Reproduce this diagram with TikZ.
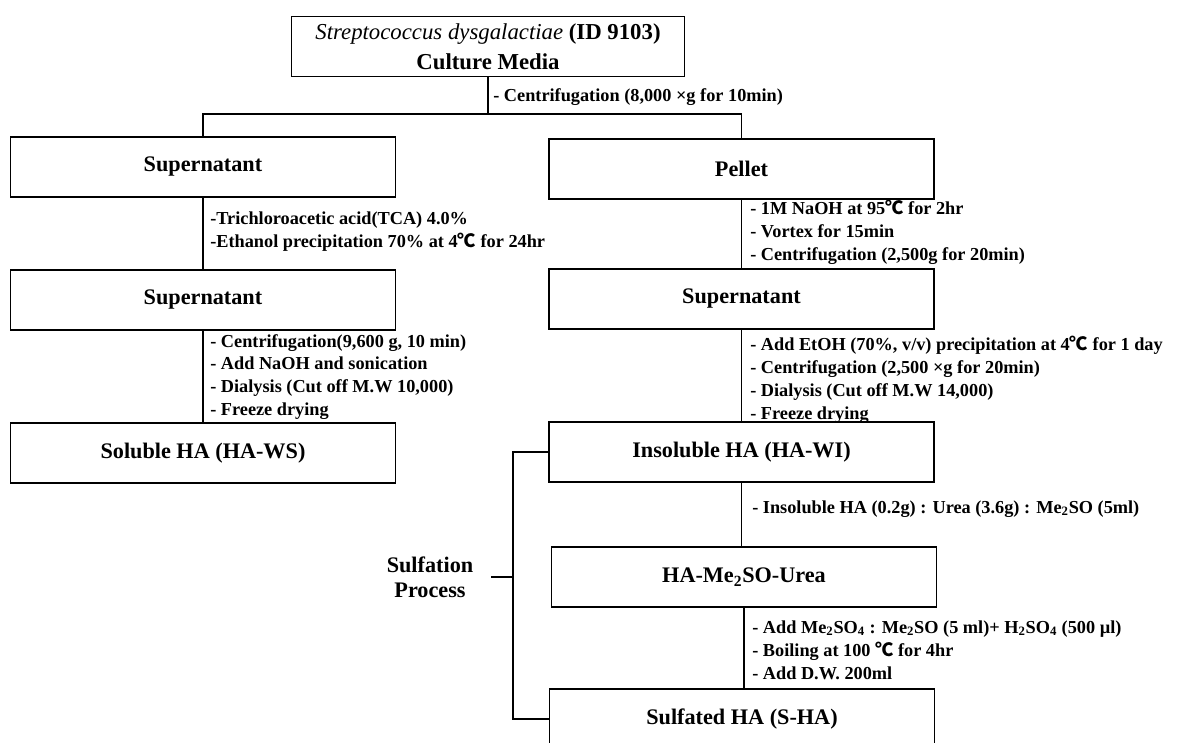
\documentclass[tikz,border=0pt]{standalone}
\usepackage{fontspec}
\setmainfont{Liberation Serif}
\newfontfamily\cjkfont{Noto Sans CJK KR}
\newcommand{\degC}{{\cjkfont ℃}}
\newcommand{\subs}[1]{\textsubscript{#1}}

\begin{document}
\begin{tikzpicture}[x=0.025cm, y=-0.025cm,
  stagebox/.style={draw, line width=1.2pt, minimum width=9.625cm, minimum height=1.5cm,
    align=center, font=\fontsize{15.8}{21}\selectfont\bfseries},
  stepnote/.style={anchor=west, align=left, inner sep=0pt,
    font=\fontsize{13}{16.3}\selectfont\bfseries},
  link/.style={line width=0.9pt}]

% page frame, pixel units (y grows downwards)
\useasboundingbox (0,0) rectangle (1179,743);

% ============================================================
% Culture media and first split
% ============================================================
\node[stagebox, minimum width=9.825cm, font=\fontsize{16.2}{21}\selectfont\bfseries]
  (media) at (488,46.5)
  {{\mdseries\itshape Streptococcus dysgalactiae} (ID 9103)\\Culture Media};
\coordinate (split) at (488,114);
\node[stepnote] (spin1) at (493,97) {- Centrifugation (8,000 ×g for 10min)};

% ============================================================
% Left column: soluble HA
% ============================================================
\node[stagebox] (supL1) at (203,167) {Supernatant};
\node[stagebox] (supL2) at (203,300) {Supernatant};
\node[stagebox] (soluble) at (203,453) {Soluble HA (HA-WS)};

\node[stepnote] (tca) at (210,231.5)
  {-Trichloroacetic acid(TCA) 4.0\%\\-Ethanol precipitation 70\% at 4\degC{} for 24hr};
\node[stepnote] (dialL) at (210,377)
  {- Centrifugation(9,600 g, 10 min)\\- Add NaOH and sonication\\
   - Dialysis (Cut off M.W 10,000)\\- Freeze drying};

% ============================================================
% Right column: insoluble HA and sulfation
% ============================================================
\node[stagebox] (pellet) at (741.5,169) {Pellet};
\node[stagebox] (supR) at (741.5,299) {Supernatant};
\node[stagebox] (insol) at (741.5,452) {Insoluble HA (HA-WI)};
\node[stagebox] (urea) at (744,577) {HA-Me\subs{2}SO-Urea};
\node[stagebox] (sulf) at (742,719) {Sulfated HA (S-HA)};

\node[stepnote] (naoh) at (750,232)
  {- 1M NaOH at 95\degC{} for 2hr\\- Vortex for 15min\\- Centrifugation (2,500g for 20min)};
\node[stepnote] (dialR) at (750,380)
  {- Add EtOH (70\%, v/v) precipitation at 4\degC{} for 1 day\\
   - Centrifugation (2,500 ×g for 20min)\\- Dialysis (Cut off M.W 14,000)\\- Freeze drying};
\node[stepnote] (mix) at (752,509)
  {- Insoluble HA (0.2g) : Urea (3.6g) : Me\subs{2}SO (5ml)};
\node[stepnote] (boil) at (752,650)
  {- Add Me\subs{2}SO\subs{4} : Me\subs{2}SO (5 ml)+ H\subs{2}SO\subs{4} (500 µl)\\
   - Boiling at 100 \degC{} for 4hr\\- Add D.W. 200ml};

% Sulfation bracket
\node[align=center, font=\fontsize{15.8}{18}\selectfont\bfseries] (proc) at (430,577)
  {Sulfation\\Process};
\coordinate (brk) at (513,577);
\coordinate (tick) at (491,577);

% ============================================================
% Connectors
% ============================================================
\draw[link] (media.south) -- (split);
\draw[link] (supL1.north) |- (split) -| (pellet.north);
\draw[link] (supL1.south) -- (supL2.north);
\draw[link] (supL2.south) -- (soluble.north);
\draw[link] (pellet.south) -- (supR.north);
\draw[link] (supR.south) -- (insol.north);
\draw[link] (insol.south) -- (insol.south |- urea.north);
\draw[link] (urea.south) -- (urea.south |- sulf.north);
\draw[link] (insol.west) -| (brk) |- (sulf.west);
\draw[link] (tick) -- (brk);

\end{tikzpicture}
\end{document}
